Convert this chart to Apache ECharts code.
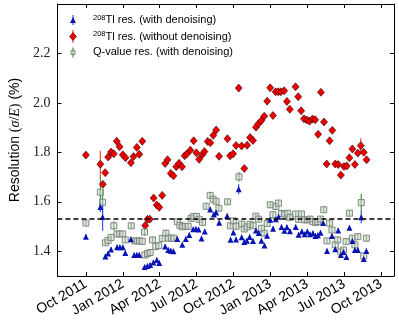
<!DOCTYPE html>
<html>
<head>
<meta charset="utf-8">
<script src="https://cdn.jsdelivr.net/npm/echarts@6/dist/echarts.min.js"></script>
<style>
  html, body { margin: 0; padding: 0; background: #fff; }
  #chart { width: 399px; height: 333px; }
</style>
</head>
<body>
<div id="chart"></div>
<script>
// tick positions (decimal years) and resolution ticks
var xTickYears = [2011.75, 2012.0, 2012.25, 2012.5, 2012.75, 2013.0, 2013.25, 2013.5, 2013.75];
var monthNames = ['Jan', 'Apr', 'Jul', 'Oct'];
var yTicks = [1.4, 1.6, 1.8, 2.0, 2.2];
var refLevel = 1.532;

// [decimal year, resolution (%), error (optional)]
var tlDenoised = [
  [2011.750,1.459],[2011.848,1.579,0.02],[2011.863,1.539,0.056],[2011.882,1.379],[2011.900,1.391],
  [2011.920,1.407],[2011.961,1.416],[2011.980,1.416],[2012.000,1.416],[2012.017,1.393],
  [2012.055,1.449],[2012.077,1.385],[2012.095,1.385],[2012.112,1.385],[2012.148,1.336],
  [2012.167,1.340],[2012.185,1.344],[2012.207,1.355],[2012.230,1.365],[2012.247,1.353],
  [2012.287,1.419],[2012.308,1.405],[2012.325,1.402],[2012.343,1.400],[2012.369,1.450],
  [2012.403,1.426],[2012.427,1.450],[2012.450,1.466],[2012.477,1.489],[2012.495,1.490],
  [2012.513,1.488],[2012.533,1.452],[2012.555,1.480],[2012.592,1.569],[2012.617,1.549],
  [2012.632,1.557],[2012.653,1.515],[2012.707,1.543],[2012.730,1.447],[2012.749,1.476],
  [2012.767,1.448],[2012.785,1.651,0.02],[2012.805,1.457],[2012.823,1.437],[2012.840,1.443],
  [2012.859,1.458],[2012.882,1.442],[2012.902,1.484],[2012.921,1.474],[2012.939,1.443],
  [2012.960,1.423],[2012.977,1.463],[2012.999,1.527],[2013.018,1.491],[2013.037,1.529],
  [2013.055,1.540],[2013.075,1.498],[2013.095,1.483],[2013.112,1.497],[2013.132,1.481],
  [2013.171,1.498],[2013.191,1.467],[2013.213,1.480],[2013.232,1.469],[2013.250,1.480],
  [2013.268,1.469],[2013.288,1.473],[2013.305,1.462],[2013.321,1.465],[2013.339,1.475],
  [2013.357,1.514],[2013.383,1.401],[2013.417,1.462],[2013.439,1.408],[2013.459,1.484],
  [2013.477,1.385],[2013.495,1.397],[2013.515,1.377],[2013.535,1.495],[2013.555,1.442],
  [2013.572,1.405],[2013.592,1.405],[2013.615,1.538,0.025],[2013.632,1.369],[2013.650,1.401]
];

var tlRaw = [
  [2011.750,1.789],[2011.848,1.752,0.055],[2011.865,1.671],[2011.881,1.718],[2011.901,1.781],
  [2011.920,1.801],[2011.939,1.794],[2011.959,1.845],[2011.978,1.823],[2012.000,1.790],
  [2012.018,1.778],[2012.055,1.758],[2012.073,1.783],[2012.095,1.820],[2012.112,1.792],
  [2012.132,1.845],[2012.152,1.504],[2012.167,1.529],[2012.183,1.530],[2012.209,1.615],
  [2012.230,1.587],[2012.247,1.578],[2012.267,1.626],[2012.287,1.755],[2012.303,1.770],
  [2012.325,1.715],[2012.343,1.705],[2012.362,1.742],[2012.381,1.756],[2012.401,1.742],
  [2012.419,1.786],[2012.433,1.793],[2012.457,1.809],[2012.480,1.847],[2012.498,1.798],
  [2012.517,1.772],[2012.539,1.791],[2012.553,1.803],[2012.575,1.844],[2012.593,1.839],
  [2012.613,1.869],[2012.632,1.890],[2012.652,1.784],[2012.709,1.855],[2012.727,1.786],
  [2012.747,1.794],[2012.767,1.828],[2012.785,2.060],[2012.805,1.826],[2012.823,1.735],
  [2012.842,1.829],[2012.862,1.860],[2012.882,1.848],[2012.902,1.902],[2012.919,1.916],
  [2012.938,1.928],[2012.958,1.946],[2012.978,2.007],[2012.998,2.061],[2013.017,1.949],
  [2013.035,2.045],[2013.053,2.045],[2013.071,2.045],[2013.093,2.049],[2013.112,2.006],
  [2013.131,1.974],[2013.170,2.065],[2013.188,2.025],[2013.208,1.968],[2013.227,1.936],
  [2013.247,1.931],[2013.265,1.926],[2013.285,1.935],[2013.303,1.932],[2013.323,1.873],
  [2013.342,2.043],[2013.363,1.923],[2013.381,1.753],[2013.401,1.847],[2013.419,1.889],
  [2013.439,1.753],[2013.459,1.751],[2013.477,1.708],[2013.498,1.743],[2013.517,1.745],
  [2013.535,1.778],[2013.555,1.814],[2013.572,1.751],[2013.592,1.797],[2013.612,1.827,0.03],
  [2013.632,1.800],[2013.651,1.770]
];

var qDenoised = [
  [2011.750,1.514],[2011.848,1.639,0.06],[2011.863,1.598,0.05],[2011.882,1.434],[2011.900,1.444],
  [2011.920,1.456],[2011.939,1.503,0.018],[2011.961,1.470],[2011.979,1.470],[2011.999,1.470],
  [2012.017,1.446],[2012.057,1.503],[2012.080,1.442],[2012.097,1.442],[2012.113,1.442],
  [2012.132,1.440],[2012.147,1.478,0.015],[2012.150,1.385],[2012.168,1.391],[2012.185,1.395],
  [2012.201,1.446],[2012.223,1.419],[2012.243,1.423],[2012.267,1.452],[2012.292,1.473,0.015],
  [2012.310,1.453],[2012.328,1.453],[2012.345,1.453],[2012.370,1.519],[2012.387,1.505],
  [2012.403,1.499],[2012.423,1.501],[2012.443,1.501],[2012.463,1.533],[2012.480,1.541],
  [2012.499,1.541],[2012.517,1.529],[2012.540,1.517],[2012.565,1.582],[2012.592,1.626],
  [2012.612,1.610],[2012.632,1.602],[2012.651,1.574],[2012.710,1.600],[2012.729,1.503],
  [2012.749,1.523],[2012.767,1.501],[2012.787,1.701,0.02],[2012.805,1.510],[2012.823,1.490],
  [2012.842,1.499],[2012.862,1.509],[2012.883,1.503],[2012.901,1.542],[2012.920,1.530],
  [2012.939,1.493],[2012.958,1.473],[2012.978,1.512],[2012.999,1.588],[2013.017,1.548],
  [2013.037,1.581],[2013.055,1.595],[2013.075,1.553],[2013.097,1.550],[2013.117,1.554],
  [2013.132,1.537],[2013.171,1.551],[2013.191,1.529],[2013.210,1.551],[2013.230,1.527],
  [2013.250,1.527],[2013.268,1.530],[2013.288,1.520],[2013.305,1.516],[2013.321,1.520],
  [2013.339,1.530],[2013.361,1.568],[2013.383,1.442],[2013.401,1.514],[2013.417,1.486],
  [2013.439,1.426],[2013.455,1.446],[2013.477,1.398],[2013.495,1.405],[2013.512,1.439],
  [2013.535,1.554],[2013.555,1.453],[2013.572,1.426],[2013.592,1.459],[2013.615,1.597,0.035],
  [2013.632,1.381],[2013.650,1.453]
];

var chart = echarts.init(document.getElementById('chart'));

// vertical error bars, drawn through the axes
function errorBars(data, defErr, color) {
  return {
    type: 'custom',
    silent: true,
    data: data.map(function (d) { return [d[0], d[1], d[2] || defErr]; }),
    encode: { x: 0, y: 1 },
    renderItem: function (params, api) {
      var x = api.value(0), y = api.value(1), e = api.value(2);
      var p1 = api.coord([x, y - e]);
      var p2 = api.coord([x, y + e]);
      return {
        type: 'line',
        shape: { x1: p1[0], y1: p1[1], x2: p2[0], y2: p2[1] },
        style: { stroke: color, lineWidth: 1.2 }
      };
    }
  };
}

function quarterLabel(v) {
  var n = Math.round(v * 4);
  return monthNames[n % 4] + ' ' + Math.floor(n / 4);
}

var xMin = 2011.557, xMax = 2013.837;
var frame = { color: '#000', width: 1 };

var legendFont = 'Liberation Sans';
var supRich = {
  s: { fontSize: 7.5, fontFamily: legendFont, verticalAlign: 'top', lineHeight: 13, fill: '#000' },
  n: { fontSize: 11, fontFamily: legendFont, lineHeight: 13, fill: '#000' }
};

var option = {
  animation: false,
  grid: { left: 52, right: 5, top: 4, bottom: 57 },
  xAxis: [{
    type: 'value', min: xMin, max: xMax, position: 'bottom',
    axisLine: { onZero: false, lineStyle: frame },
    axisTick: { inside: true, length: 4, customValues: xTickYears, lineStyle: { color: '#000' } },
    axisLabel: {
      customValues: xTickYears, rotate: 30, margin: 7, formatter: quarterLabel,
      fontSize: 14, fontFamily: 'Liberation Sans', color: '#000'
    },
    splitLine: { show: false }
  }, {
    type: 'value', min: xMin, max: xMax, position: 'top',
    axisLine: { onZero: false, lineStyle: frame },
    axisTick: { inside: true, length: 4, customValues: xTickYears, lineStyle: { color: '#000' } },
    axisLabel: { show: false },
    splitLine: { show: false }
  }],
  yAxis: [{
    type: 'value', min: 1.3, max: 2.4, position: 'left',
    axisLine: { show: true, onZero: false, lineStyle: frame },
    axisTick: { show: true, inside: true, length: 4, customValues: yTicks, lineStyle: { color: '#000' } },
    axisLabel: {
      customValues: yTicks, margin: 7,
      formatter: function (v) { return v.toFixed(1); },
      fontSize: 14, fontFamily: 'Liberation Serif', color: '#222'
    },
    splitLine: { show: false },
    name: '{r|Resolution }{m|(}{i|σ}{m|/}{i|E}{m|)}{r| (%)}',
    nameLocation: 'middle', nameRotate: 90, nameGap: 26,
    nameTextStyle: {
      rich: {
        r: { fontSize: 14, fontFamily: 'Liberation Sans', color: '#000' },
        m: { fontSize: 14, fontFamily: 'Liberation Serif', color: '#000' },
        i: { fontSize: 14, fontFamily: 'Liberation Serif', fontStyle: 'italic', color: '#000' }
      }
    }
  }, {
    type: 'value', min: 1.3, max: 2.4, position: 'right',
    axisLine: { show: true, onZero: false, lineStyle: frame },
    axisTick: { show: true, inside: true, length: 4, customValues: yTicks, lineStyle: { color: '#000' } },
    axisLabel: { show: false },
    splitLine: { show: false }
  }],
  series: [
    errorBars(tlRaw, 0.012, '#ff4040'),
    {
      type: 'scatter', data: tlRaw, symbol: 'diamond', symbolSize: [7, 8],
      itemStyle: { color: '#ee0000', borderColor: '#300000', borderWidth: 0.6, opacity: 1 },
      silent: true
    },
    errorBars(qDenoised, 0.012, '#3a9a3a'),
    {
      type: 'scatter', data: qDenoised, symbol: 'rect', symbolSize: 6,
      itemStyle: { color: 'rgba(205,212,205,0.55)', borderColor: '#7f8a7f', borderWidth: 1, opacity: 1 },
      silent: true
    },
    errorBars(tlDenoised, 0.01, '#3050ff'),
    {
      type: 'scatter', data: tlDenoised, symbol: 'triangle', symbolSize: [6, 6],
      itemStyle: { color: '#0a14b4', opacity: 1 },
      silent: true,
      markLine: {
        silent: true, symbol: 'none', label: { show: false },
        lineStyle: { color: '#000', type: [5, 3], width: 1.5 },
        data: [{ yAxis: refLevel }]
      }
    }
  ],
  graphic: [
    // legend row 1: 208Tl with denoising
    { type: 'line', shape: { x1: 73, y1: 15, x2: 73, y2: 25 }, style: { stroke: '#3050ff', lineWidth: 1.2 } },
    { type: 'polygon', shape: { points: [[73, 17], [70, 23], [76, 23]] }, style: { fill: '#0a14b4' } },
    { type: 'text', left: 93, top: 13.5, style: { text: '{s|208}{n|Tl res. (with denoising)}', rich: supRich } },
    // legend row 2: 208Tl without denoising
    { type: 'line', shape: { x1: 73, y1: 30, x2: 73, y2: 43 }, style: { stroke: '#ff4040', lineWidth: 1.2 } },
    { type: 'polygon', shape: { points: [[73, 32.5], [76.5, 36.5], [73, 40.5], [69.5, 36.5]] }, style: { fill: '#ee0000', stroke: '#300000', lineWidth: 0.6 } },
    { type: 'text', left: 93, top: 30, style: { text: '{s|208}{n|Tl res. (without denoising)}', rich: supRich } },
    // legend row 3: Q-value
    { type: 'line', shape: { x1: 73, y1: 47.5, x2: 73, y2: 57.5 }, style: { stroke: '#3a9a3a', lineWidth: 1.2 } },
    { type: 'rect', shape: { x: 71, y: 50.5, width: 4, height: 4 }, style: { fill: 'rgba(205,212,205,0.55)', stroke: '#7f8a7f', lineWidth: 1 } },
    { type: 'text', left: 93, top: 46.5, style: { text: 'Q-value res. (with denoising)', fontSize: 11, fontFamily: legendFont, fill: '#000' } }
  ]
};

chart.setOption(option);
</script>
</body>
</html>
